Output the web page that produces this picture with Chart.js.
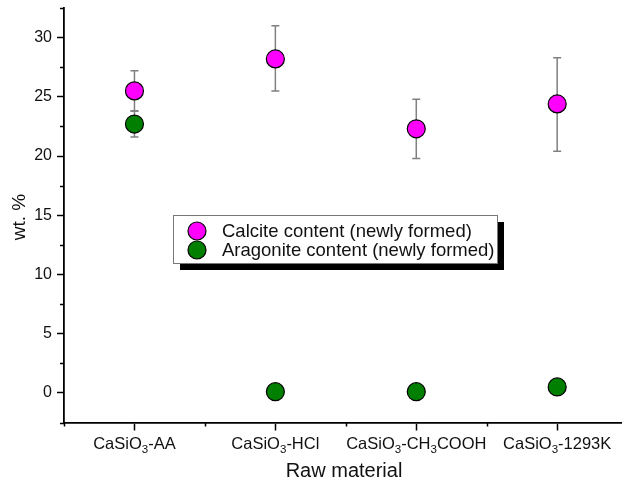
<!DOCTYPE html>
<html>
<head>
<meta charset="utf-8">
<script src="https://cdn.jsdelivr.net/npm/chart.js@4.4.1/dist/chart.umd.min.js"></script>
<style>
  body { margin: 0; background: #fff; }
  canvas { display: block; }
</style>
</head>
<body>
<canvas id="grafico" width="622" height="486"></canvas>
<script>
// Datos ("_" = siguiente carácter en subíndice)
const categorias = ["CaSiO_3-AA", "CaSiO_3-HCl", "CaSiO_3-CH_3COOH", "CaSiO_3-1293K"];
const calcita = [25.5, 28.2, 22.3, 24.4];
const calcitaMax = [27.2, 31.0, 24.8, 28.3];
const calcitaMin = [23.8, 25.5, 19.8, 20.4];
const aragonito = [22.7, 0.1, 0.1, 0.5];
const aragonitoMax = [23.8, 0.5, 0.4, 0.9];
const aragonitoMin = [21.6, -0.3, -0.2, 0.1];
const ticksY = [0, 5, 10, 15, 20, 25, 30];
const menoresY = [-2.5, 2.5, 7.5, 12.5, 17.5, 22.5, 27.5, 32.5];
const menoresX = [-0.5, 0.5, 1.5, 2.5, 3.5];
const leyenda = ["Calcite content (newly formed)", "Aragonite content (newly formed)"];

const fuente = "'Liberation Sans', Arial, sans-serif";

const puntos = valores => valores.map((v, i) => ({ x: i, y: v }));

// Barras de error, dibujadas con las escalas del gráfico
const pluginErrores = {
    id: "errores",
    beforeDatasetsDraw(chart) {
        const { ctx, scales: { x, y } } = chart;
        const series = [[calcitaMax, calcitaMin], [aragonitoMax, aragonitoMin]];
        ctx.save();
        ctx.strokeStyle = "#808080";
        ctx.lineWidth = 1.5;
        series.forEach(([alto, bajo]) => {
            alto.forEach((a, i) => {
                const px = x.getPixelForValue(i);
                const y1 = y.getPixelForValue(a);
                const y2 = y.getPixelForValue(bajo[i]);
                ctx.beginPath();
                ctx.moveTo(px, y1); ctx.lineTo(px, y2);
                ctx.moveTo(px - 4, y1); ctx.lineTo(px + 4, y1);
                ctx.moveTo(px - 4, y2); ctx.lineTo(px + 4, y2);
                ctx.stroke();
            });
        });
        ctx.restore();
    }
};

function textoConSubindices(ctx, texto, cx, base, tam) {
    const partes = [];
    for (let i = 0; i < texto.length; i++) {
        if (texto[i] === "_") { partes.push({ t: texto[i + 1], sub: true }); i++; }
        else partes.push({ t: texto[i], sub: false });
    }
    const ancho = p => {
        ctx.font = (p.sub ? tam * 0.7 : tam) + "px " + fuente;
        return ctx.measureText(p.t).width;
    };
    let total = partes.reduce((s, p) => s + ancho(p), 0);
    let px = cx - total / 2;
    partes.forEach(p => {
        const w = ancho(p);
        ctx.fillText(p.t, px, p.sub ? base + 4 : base);
        px += w;
    });
}

const pluginDecoracion = {
    id: "decoracion",
    afterDraw(chart) {
        const { ctx, chartArea: area, scales: { x, y } } = chart;
        ctx.save();
        // marcas menores
        ctx.strokeStyle = "#000";
        ctx.lineWidth = 1.5;
        ctx.beginPath();
        menoresY.forEach(v => {
            const py = Math.round(y.getPixelForValue(v)) + 0.5;
            ctx.moveTo(area.left - 4, py); ctx.lineTo(area.left, py);
        });
        menoresX.forEach(v => {
            const px = Math.round(x.getPixelForValue(v)) + 0.5;
            ctx.moveTo(px, area.bottom); ctx.lineTo(px, area.bottom + 4);
        });
        ctx.stroke();

        // etiquetas de categoría
        ctx.fillStyle = "#111";
        ctx.textAlign = "left";
        ctx.textBaseline = "alphabetic";
        categorias.forEach((c, i) => {
            textoConSubindices(ctx, c, x.getPixelForValue(i), 449, 16.5);
        });

        // títulos de ejes
        ctx.font = "20px " + fuente;
        ctx.textAlign = "center";
        ctx.textBaseline = "middle";
        ctx.fillText("Raw material", 344, 471);
        ctx.font = "19px " + fuente;
        ctx.translate(20, 217);
        ctx.rotate(-Math.PI / 2);
        ctx.fillText("wt. %", 0, 0);
        ctx.restore();

        // leyenda con sombra
        ctx.save();
        const lx = 173, ly = 215, lw = 324, lh = 48;
        ctx.fillStyle = "#000";
        ctx.fillRect(lx + 7, ly + 7, lw, lh);
        ctx.fillStyle = "#fff";
        ctx.fillRect(lx, ly, lw, lh);
        ctx.strokeStyle = "#777";
        ctx.lineWidth = 1;
        ctx.strokeRect(lx + 0.5, ly + 0.5, lw, lh);
        const colores = ["#ff00ff", "#007f00"];
        leyenda.forEach((t, i) => {
            const cy = ly + 16 + i * 19;
            ctx.beginPath();
            ctx.arc(197, cy, 9, 0, Math.PI * 2);
            ctx.fillStyle = colores[i];
            ctx.fill();
            ctx.strokeStyle = "#000";
            ctx.lineWidth = 1.2;
            ctx.stroke();
            ctx.fillStyle = "#111";
            ctx.font = "18.5px " + fuente;
            ctx.textAlign = "left";
            ctx.textBaseline = "middle";
            ctx.fillText(t, 222, cy + 1);
        });
        ctx.restore();
    }
};

new Chart(document.querySelector("#grafico"), {
    type: "scatter",
    data: {
        datasets: [
            {
                label: leyenda[0],
                data: puntos(calcita),
                backgroundColor: "#ff00ff",
                borderColor: "#000",
                borderWidth: 1.2,
                pointRadius: 9,
                clip: false
            },
            {
                label: leyenda[1],
                data: puntos(aragonito),
                backgroundColor: "#007f00",
                borderColor: "#000",
                borderWidth: 1.2,
                pointRadius: 9,
                clip: false
            }
        ]
    },
    options: {
        responsive: false,
        animation: false,
        layout: { autoPadding: false, padding: { top: 8, right: 0, left: 0, bottom: 0 } },
        plugins: { legend: { display: false }, tooltip: { enabled: false } },
        scales: {
            x: {
                type: "linear",
                min: -0.5,
                max: 3.46,
                afterBuildTicks: eje => { eje.ticks = categorias.map((c, i) => ({ value: i })); },
                afterFit: eje => { eje.height = 63.5; eje.paddingLeft = 0; eje.paddingRight = 0; },
                ticks: { display: false },
                grid: { drawOnChartArea: false, drawTicks: true, tickLength: 8, tickColor: "#000", tickWidth: 1.5 },
                border: { display: true, color: "#000", width: 1.8 }
            },
            y: {
                min: -2.5,
                max: 32.5,
                afterBuildTicks: eje => { eje.ticks = ticksY.map(v => ({ value: v })); },
                afterFit: eje => { eje.width = 64; eje.paddingTop = 0; eje.paddingBottom = 0; },
                ticks: { color: "#111", font: { size: 16, family: fuente }, padding: 5 },
                grid: { drawOnChartArea: false, drawTicks: true, tickLength: 7, tickColor: "#000", tickWidth: 1.5 },
                border: { display: true, color: "#000", width: 1.8 }
            }
        }
    },
    plugins: [pluginErrores, pluginDecoracion]
});
</script>
</body>
</html>
